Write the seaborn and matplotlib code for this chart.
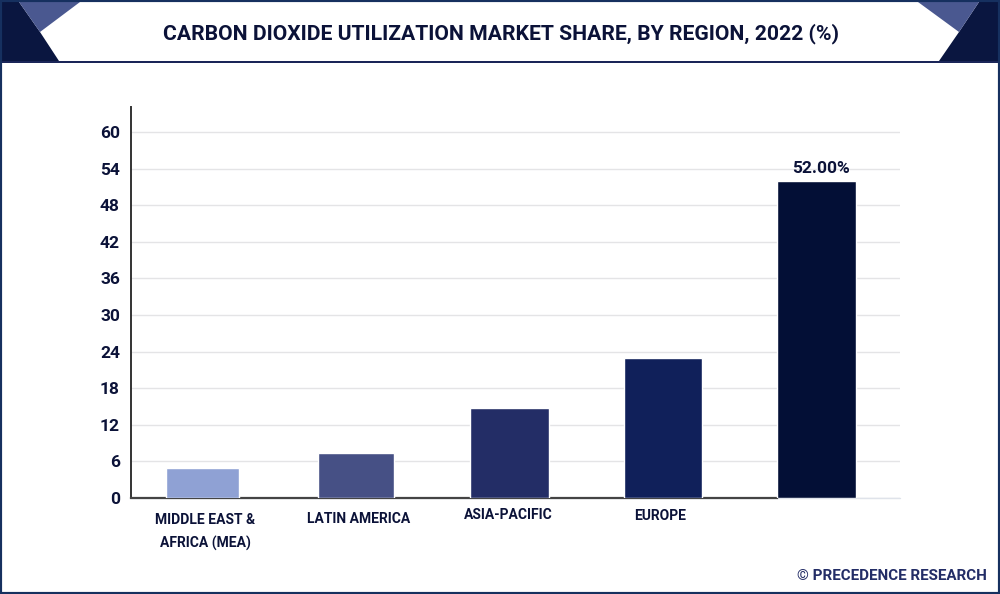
import matplotlib
matplotlib.use("Agg")
import matplotlib.pyplot as plt
import matplotlib.transforms as mtrans
from matplotlib.patches import Polygon, Rectangle
import seaborn as sns
import pandas as pd

regions = ["MIDDLE EAST &\nAFRICA (MEA)", "LATIN AMERICA", "ASIA-PACIFIC", "EUROPE", ""]
shares = [4.9, 7.3, 14.75, 22.95, 52.0]
colors = ["#8fa1d4", "#465085", "#232d66", "#10205a", "#030f36"]
bar_widths = [0.47, 0.50, 0.51, 0.51, 0.51]
y_ticks = list(range(0, 61, 6))
title = "CARBON DIOXIDE UTILIZATION MARKET SHARE, BY REGION, 2022 (%)"
value_label = "52.00%"
credit = "© PRECEDENCE RESEARCH"

W, H = 1000, 594
sns.set_theme(style="white")
plt.rcParams["font.family"] = ["Roboto", "DejaVu Sans"]
NAVY = "#0b1238"

fig = plt.figure(figsize=(W / 100, H / 100), dpi=100, facecolor="white")
ax = fig.add_axes([131 / W, (H - 498) / H, (900 - 131) / W, (498 - 107) / H])
ax.set_facecolor("none")

df = pd.DataFrame({"region": regions, "share": shares})
sns.barplot(data=df, x="region", y="share", hue="region", palette=colors,
            legend=False, width=0.5, saturation=1, ax=ax, zorder=3)
for bar, w in zip(ax.patches, bar_widths):
    c = bar.get_x() + bar.get_width() / 2
    bar.set_width(w)
    bar.set_x(c - w / 2)

ax.set_xlim(-0.466, 4.544)
ax.set_ylim(0, 64.1)
ax.set_yticks(y_ticks)
ax.set_xlabel("")
ax.set_ylabel("")
ax.grid(axis="y", color="#e4e4e6", lw=1)
ax.set_axisbelow(True)
ax.axhline(0, color="#dfe3ea", lw=1, zorder=1, clip_on=False)
for s in ("top", "right"):
    ax.spines[s].set_visible(False)
ax.spines["left"].set_color("#333333")
ax.spines["left"].set_linewidth(1.4)
ax.spines["bottom"].set_color("#444444")
ax.spines["bottom"].set_linewidth(1.6)
ax.spines["bottom"].set_bounds(-0.466, 3.74)
ax.tick_params(axis="both", length=0)
ax.tick_params(axis="y", pad=8)
for t in ax.get_yticklabels():
    t.set_fontsize(12.5)
    t.set_fontweight("bold")
    t.set_color(NAVY)

ax.tick_params(axis="x", pad=11)
x_offsets = [(2, 0), (2, 1), (-1, 3.5), (-2, 3), (0, 0)]
for t, (dx, dy) in zip(ax.get_xticklabels(), x_offsets):
    t.set_fontsize(10)
    t.set_fontweight("bold")
    t.set_color(NAVY)
    t.set_linespacing(1.75)
    t.set_transform(t.get_transform() + mtrans.ScaledTranslation(dx / 72, dy / 72, fig.dpi_scale_trans))

ax.text(4.03, shares[-1] + 0.8, value_label, ha="center", va="bottom", fontsize=12.5,
        fontweight="bold", color=NAVY, zorder=4)


def px(points):
    return [(x / W, 1 - y / H) for x, y in points]


def add_poly(points, color):
    fig.add_artist(Polygon(px(points), closed=True, transform=fig.transFigure, fc=color, ec="none", zorder=5))


add_poly([(0, 0), (1000, 0), (1000, 2), (0, 2)], "#1f3a6e")
add_poly([(0, 2), (19, 2), (40, 32), (59, 61), (0, 61)], "#0a1640")
add_poly([(19, 2), (80, 2), (40, 32)], "#4a5890")
add_poly([(1000, 2), (979, 2), (959, 32), (939, 61), (1000, 61)], "#0a1640")
add_poly([(979, 2), (918, 2), (959, 32)], "#4a5890")
add_poly([(0, 61), (1000, 61), (1000, 63), (0, 63)], "#1a2558")
fig.add_artist(Rectangle((0, 0), 1, 1, transform=fig.transFigure, fc="none", ec="#16305f", lw=3, zorder=6))


def fit_width(text, target_px):
    r = fig.canvas.get_renderer()
    text.set_fontsize(text.get_fontsize() * target_px / text.get_window_extent(r).width)


t_title = fig.text(501.5 / W, 1 - 33.5 / H, title, ha="center", va="center", fontsize=15,
                   fontweight="bold", color=NAVY, zorder=7)
fit_width(t_title, 677)
t_credit = fig.text(987 / W, 1 - 576 / H, credit, ha="right", va="center", fontsize=11,
                    fontweight="bold", color="#232d66", zorder=7)
fit_width(t_credit, 190)

fig.savefig("out.png", dpi=100, facecolor="white")
